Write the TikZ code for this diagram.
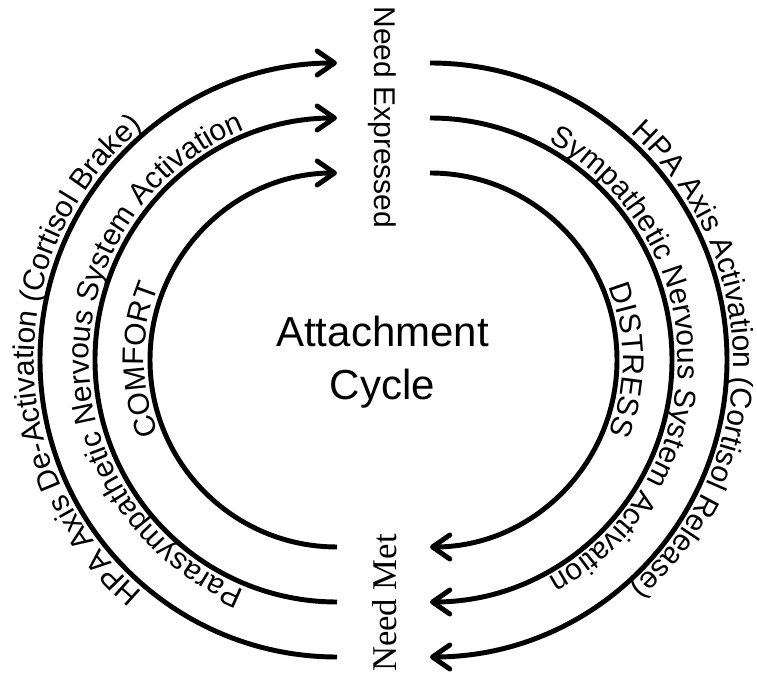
\documentclass[tikz,border=0pt]{standalone}
\usepackage{fontspec}
\setmainfont{Liberation Sans}
\newfontfamily\metfont{Liberation Serif}
\usetikzlibrary{arrows.meta,calc,decorations.text}
\newcommand\arcfont{\fontsize{22.5}{27}\selectfont}
\tikzset{
  cycleline/.style={black,line width=3.7pt},
  flow/.style={cycleline,-{Straight Barb[length=13pt,width=18pt,round]}},
  arclabel/.style={decorate,decoration={text along path,text align=center,
                   text={|\arcfont|#1}}},
  stateleft/.style={font=\fontsize{22.5}{27}\selectfont,inner sep=0pt},
  title/.style={font=\fontsize{31.5}{40}\selectfont,inner sep=0pt,anchor=base},
}

\begin{document}
\begin{tikzpicture}[x=0.75pt,y=0.75pt]
  \path[use as bounding box] (0,0) rectangle (757,674);
  \coordinate (lc) at (337,314);
  \coordinate (rc) at (430,314);

  \node[title] (attach) at (382.5,327) {Attachment};
  \node[title] (cycle) at (382.5,274) {Cycle};
  \node[stateleft,rotate=-90] (needexp) at (382.5,556.5) {Need Expressed};
  \node[inner sep=0pt,rotate=90,font=\metfont\fontsize{26}{30}\selectfont] (needmet) at (384.5,71) {Need Met};

  % comfort side runs up to the need, distress side runs down to its meeting
  \foreach \r in {187,242,297}{
    \draw[flow] ($(lc)+(270:\r)$) arc[start angle=270,end angle=90,radius=\r];
    \draw[flow] ($(rc)+(90:\r)$) arc[start angle=90,end angle=-90,radius=\r];
  }

  \path[arclabel={COMFORT}] ($(lc)+(270:193)$) arc[start angle=270,end angle=90,radius=193];
  \path[arclabel={Parasympathetic Nervous System Activation}]
    ($(lc)+(270:248)$) arc[start angle=270,end angle=90,radius=248];
  \path[arclabel={HPA Axis De-Activation (Cortisol Brake)}]
    ($(lc)+(270:303)$) arc[start angle=270,end angle=90,radius=303];
  \path[arclabel={DISTRESS}] ($(rc)+(90:193)$) arc[start angle=90,end angle=-90,radius=193];
  \path[arclabel={Sympathetic Nervous System Activation}]
    ($(rc)+(90:248)$) arc[start angle=90,end angle=-90,radius=248];
  \path[arclabel={HPA Axis Activation (Cortisol Release)}]
    ($(rc)+(90:303)$) arc[start angle=90,end angle=-90,radius=303];
\end{tikzpicture}
\end{document}
